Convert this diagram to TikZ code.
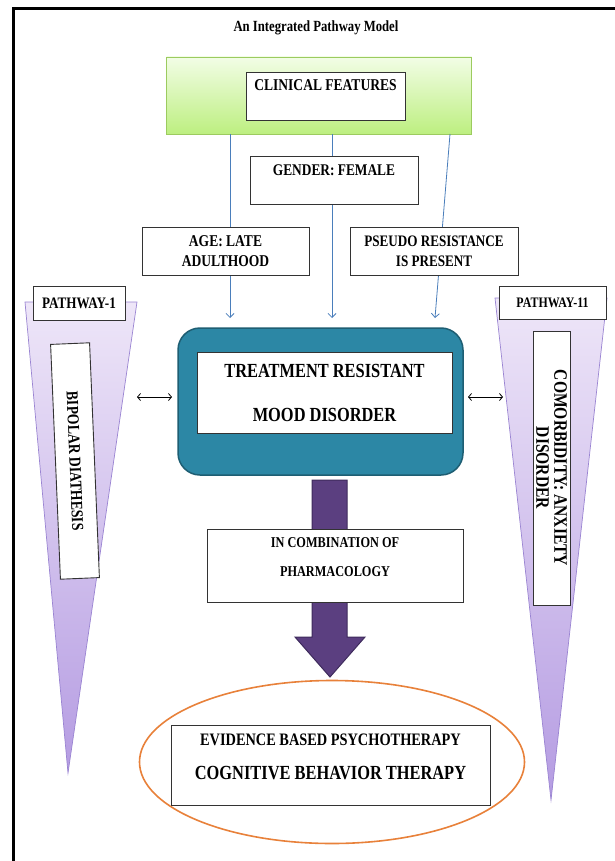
\documentclass[tikz,border=0pt]{standalone}
\usepackage{fontspec}
\setmainfont{Liberation Serif}[FakeStretch=0.82]
\usetikzlibrary{arrows.meta,shapes.geometric}
\definecolor{grnt}{HTML}{F2FDE6}
\definecolor{grnbot}{HTML}{BDEF80}
\definecolor{grnb}{HTML}{9CCB5F}
\definecolor{teal1}{HTML}{2C87A5}
\definecolor{tealb}{HTML}{1E5E73}
\definecolor{purp}{HTML}{5B3F80}
\definecolor{purpd}{HTML}{3E2B5C}
\definecolor{lavt}{HTML}{EEE6F8}
\definecolor{lavb}{HTML}{B59CE2}
\definecolor{lavd}{HTML}{9A84D2}
\definecolor{orng}{HTML}{E8813A}
\definecolor{blu}{HTML}{4A7EBB}
\newcommand{\fs}[2]{\fontsize{#1}{#2}\bfseries\selectfont}
\begin{document}
\begin{tikzpicture}[x=1pt,y=-1pt,
  box/.style={draw=black!80, fill=white, line width=0.9pt, inner sep=0pt, align=center},
  bluearr/.style={draw=blu, line width=0.8pt, -{Straight Barb[length=4pt,width=8pt]}},
  dblarr/.style={draw=black, line width=0.8pt, {Straight Barb[length=3pt,width=7pt]}-{Straight Barb[length=3pt,width=7pt]}},
  tri/.style={top color=lavt, bottom color=lavb, draw=lavd, line width=0.7pt}]
\useasboundingbox (0,0) rectangle (615,861);
\fill[white] (0,0) rectangle (615,861);
% frame
\draw[line width=3pt] (13.5,861) -- (13.5,8.5) -- (615,8.5);
% title
\node[font=\fs{15.5}{18}] (title) at (316,28) {An Integrated Pathway Model};
% green box
\node[draw=grnb, line width=0.8pt, top color=grnt, bottom color=grnbot, minimum width=305pt, minimum height=77pt, inner sep=0pt] (green) at (319,95.5) {};
\node[box, minimum width=159pt, minimum height=48pt] (clin) at (325.5,96) {};
\node[font=\fs{16.5}{19}] (clintext) at (325.5,85) {CLINICAL FEATURES};
% blue arrows
\coordinate (a1) at (230,318);
\coordinate (a2) at (332,318);
\coordinate (a3) at (435,318);
\coordinate (s3) at (450,134);
\draw[bluearr] (green.south -| a1) -- (a1);
\draw[bluearr] (green.south -| a2) -- (a2);
\draw[bluearr] (s3) -- (a3);
% gender
\node[box, minimum width=168pt, minimum height=48pt] (gender) at (334,180) {};
\node[font=\fs{16.3}{19}] (gendertext) at (334,170.5) {GENDER: FEMALE};
% age, pseudo
\node[box, minimum width=167pt, minimum height=48pt, font=\fs{16.5}{20}] (age) at (225.5,251) {AGE: LATE\\ADULTHOOD};
\node[box, minimum width=168pt, minimum height=48pt, font=\fs{16}{20}] (pseudo) at (434,251) {PSEUDO RESISTANCE\\IS PRESENT};
% triangles
\shadedraw[tri] (25,302) -- (137,302) -- (68,773) -- cycle;
\shadedraw[tri] (495,298) -- (607,298) -- (551,800) -- cycle;
\node[box, minimum width=92pt, minimum height=34pt, font=\fs{16}{19}] (p1) at (79,303) {PATHWAY-1};
\node[box, minimum width=107pt, minimum height=33pt, font=\fs{14.5}{17}] (p11) at (552.5,302.5) {PATHWAY-11};
\node[box, rotate=-87.6, minimum width=235pt, minimum height=39pt, font=\fs{16.7}{19}] (bip) at (75,461) {BIPOLAR DIATHESIS};
\node[box, rotate=-90, minimum width=274pt, minimum height=37pt, font=\fs{19}{18}] (com) at (551.5,468) {COMORBIDITY: ANXIETY\\DISORDER};
% teal box
\node[draw=tealb, fill=teal1, line width=1.5pt, rounded corners=22pt, minimum width=285pt, minimum height=147pt] (trmout) at (320.5,401.5) {};
\node[box, minimum width=255pt, minimum height=81pt, font=\fs{20}{24}] (trm) at (324.5,392.5) {TREATMENT RESISTANT\\[20pt]MOOD DISORDER};
% double arrows
\coordinate (l1) at (137,397);
\coordinate (l2) at (172,397);
\coordinate (r1) at (468,397);
\coordinate (r2) at (503,397);
\draw[dblarr] (l1) -- (l2);
\draw[dblarr] (r1) -- (r2);
% purple arrow
\draw[fill=purp, draw=purpd, line width=1pt, line join=miter] (312,480) -- (347,480) -- (347,637) -- (365,637) -- (330,677) -- (295,637) -- (312,637) -- cycle;
% pharmacology
\node[box, minimum width=256pt, minimum height=73pt] (pharm) at (335,565.5) {};
\node[font=\fs{15}{29}, align=center] (pharmtext) at (335,557.5) {IN COMBINATION OF\\PHARMACOLOGY};
% ellipse
\node[ellipse, draw=orng, line width=1.6pt, minimum width=385pt, minimum height=163pt, inner sep=0pt] (ell) at (332,762) {};
\node[box, minimum width=319pt, minimum height=80pt] (cbt) at (330.5,765) {};
\node[font=\fs{17.5}{20}] (cbt1) at (330.5,740) {EVIDENCE BASED PSYCHOTHERAPY};
\node[font=\fs{20}{24}] (cbt2) at (330.5,773) {COGNITIVE BEHAVIOR THERAPY};
\end{tikzpicture}
\end{document}
